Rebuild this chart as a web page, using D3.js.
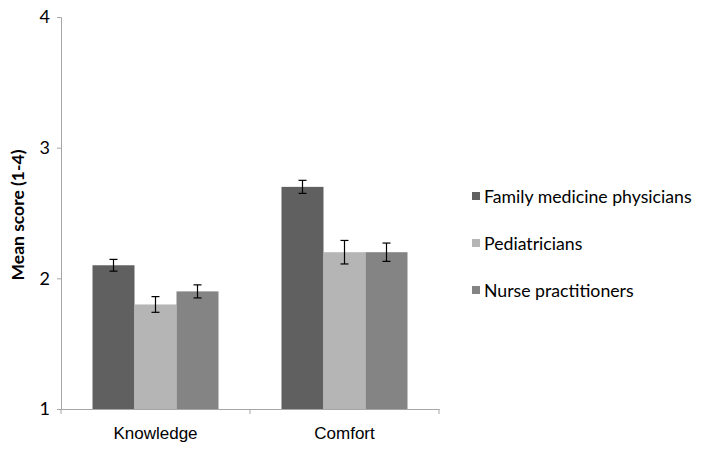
<!DOCTYPE html>
<html><head><meta charset="utf-8">
<script src="https://cdn.jsdelivr.net/npm/d3@7"></script>
<style>body{margin:0;background:#fff;} svg{display:block;font-family:Lato, "Open Sans", sans-serif;}</style>
</head><body>
<svg id="c" width="701" height="452"></svg>
<script>
const categories = ["Knowledge", "Comfort"];
const seriesNames = ["Family medicine physicians", "Pediatricians", "Nurse practitioners"];
const familyMedicine = [2.1, 2.7];
const familyMedicineErr = [0.045, 0.05];
const pediatricians = [1.8, 2.2];
const pediatriciansErr = [0.06, 0.09];
const nursePractitioners = [1.9, 2.2];
const nursePractitionersErr = [0.05, 0.07];
const yTicks = [1, 2, 3, 4];
const colors = ["#606060", "#b5b5b5", "#848484"];

const values = [familyMedicine, pediatricians, nursePractitioners];
const errs = [familyMedicineErr, pediatriciansErr, nursePractitionersErr];

const svg = d3.select("#c");
const mLeft = 61, mRight = 439, mTop = 17, mBottom = 409;
const y = d3.scaleLinear().domain([1, 4]).range([mBottom, mTop]);
const x0 = d3.scaleBand().domain(categories).range([mLeft, mRight]).paddingInner(0).paddingOuter(0);
const x1 = d3.scaleBand().domain(seriesNames).range([31.5, x0.bandwidth() - 31.5]).padding(0);

// y axis
const yAxis = d3.axisLeft(y).tickValues(yTicks).tickSize(4).tickPadding(7).tickFormat(d3.format("d"));
const gy = svg.append("g").attr("transform", `translate(${mLeft},0)`).call(yAxis);
gy.select(".domain").attr("stroke", "#a6a6a6");
gy.selectAll(".tick line").attr("stroke", "#a6a6a6");
gy.selectAll(".tick text").attr("font-size", 18).attr("fill", "#000").attr("font-family", "Lato, sans-serif");

// bars
const data = [];
categories.forEach((c, i) => seriesNames.forEach((s, j) => data.push({c, s, j, v: values[j][i], e: errs[j][i]})));
svg.append("g").selectAll("rect").data(data).join("rect")
  .attr("x", d => x0(d.c) + x1(d.s))
  .attr("width", x1.bandwidth())
  .attr("y", d => y(d.v))
  .attr("height", d => y(1) - y(d.v))
  .attr("fill", d => colors[d.j]);

// x axis
const xAxis = d3.axisBottom(x0).tickSize(0).tickPadding(18);
const gx = svg.append("g").attr("transform", `translate(0,${mBottom})`).call(xAxis);
gx.select(".domain").attr("stroke", "#a6a6a6");
gx.selectAll(".tick text").attr("font-size", 17).attr("fill", "#000");
// boundary ticks
const bounds = [mLeft].concat(categories.map(c => x0(c) + x0.bandwidth()));
gx.selectAll(".bt").data(bounds).join("line").attr("class", "bt")
  .attr("x1", d => d).attr("x2", d => d).attr("y1", 0).attr("y2", 5).attr("stroke", "#a6a6a6");

// error bars
const eg = svg.append("g").attr("stroke", "#000").attr("stroke-width", 1.2);
data.forEach(d => {
  const cx = x0(d.c) + x1(d.s) + x1.bandwidth() / 2;
  eg.append("line").attr("x1", cx).attr("x2", cx).attr("y1", y(d.v + d.e)).attr("y2", y(d.v - d.e));
  eg.append("line").attr("x1", cx - 4).attr("x2", cx + 4).attr("y1", y(d.v + d.e)).attr("y2", y(d.v + d.e));
  eg.append("line").attr("x1", cx - 4).attr("x2", cx + 4).attr("y1", y(d.v - d.e)).attr("y2", y(d.v - d.e));
});

// y label
svg.append("text").attr("transform", `translate(24,215) rotate(-90)`)
  .attr("text-anchor", "middle").attr("font-size", 17.5).attr("font-weight", "bold").text("Mean score (1-4)");

// legend
const lg = svg.append("g").attr("transform", "translate(472,196)");
seriesNames.forEach((s, j) => {
  const g = lg.append("g").attr("transform", `translate(0,${j * 47})`);
  g.append("rect").attr("x", 0).attr("y", -4).attr("width", 8).attr("height", 8).attr("fill", colors[j]);
  g.append("text").attr("x", 12).attr("y", 6.5).attr("font-size", 17.7).text(s);
});
</script>
</body></html>
